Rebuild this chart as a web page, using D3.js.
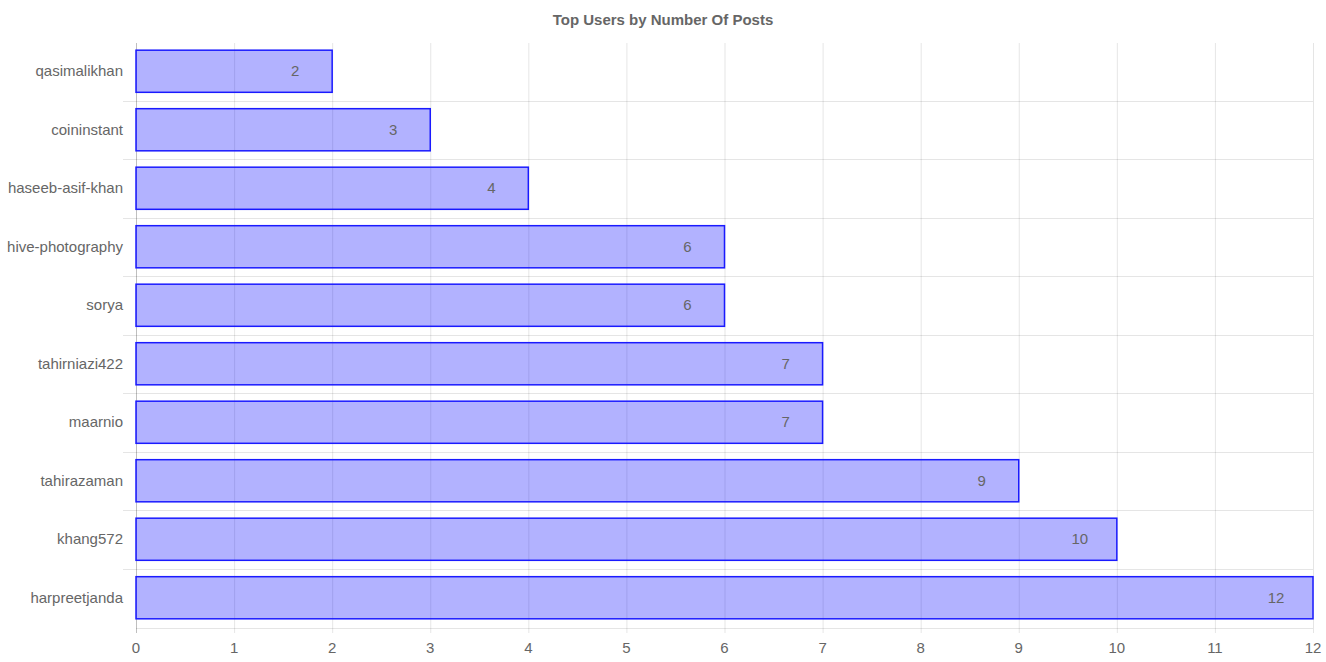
<!DOCTYPE html>
<html><head><meta charset="utf-8">
<script src="https://cdn.jsdelivr.net/npm/d3@7"></script>
<style>body{margin:0;background:#fff;font-family:"Liberation Sans",Arial,sans-serif;}</style>
</head><body><svg id="c" width="1326" height="662"></svg>
<script>
const users = ["qasimalikhan","coininstant","haseeb-asif-khan","hive-photography","sorya","tahirniazi422","maarnio","tahirazaman","khang572","harpreetjanda"];
const posts = [2,3,4,6,6,7,7,9,10,12];
const xTicks = [0,1,2,3,4,5,6,7,8,9,10,11,12];
const title = "Top Users by Number Of Posts";

const svg = d3.select("#c");
const L = 136, R = 1313, T = 42, B = 627;
const x = d3.scaleLinear().domain([0,12]).range([L,R]);
const y = d3.scaleBand().domain(users).range([T,B]).paddingInner(0).paddingOuter(0);
const grid = "rgba(0,0,0,0.1)";

svg.append("text").attr("x",663).attr("y",25).attr("text-anchor","middle")
  .attr("font-size",15).attr("font-weight","bold").attr("fill","#666").text(title);

// vertical grid
svg.append("g").selectAll("line").data(xTicks).join("line")
  .attr("x1",d=>x(d)+0.5).attr("x2",d=>x(d)+0.5).attr("y1",T+1).attr("y2",B+6)
  .attr("stroke",d=>d===0?"rgba(0,0,0,0.25)":grid).attr("stroke-width",1);
// horizontal grid (category boundaries, no top line)
const bounds = users.slice(1).map(u=>y(u));
svg.append("g").selectAll("line").data(bounds).join("line")
  .attr("x1",L-13).attr("x2",R).attr("y1",d=>Math.round(d)+0.5).attr("y2",d=>Math.round(d)+0.5)
  .attr("stroke",grid).attr("stroke-width",1);
svg.append("line").attr("x1",L).attr("x2",R).attr("y1",B+1.5).attr("y2",B+1.5)
  .attr("stroke",grid).attr("stroke-width",1);

// bars
const bh = y.bandwidth()*0.72;
svg.append("g").selectAll("rect").data(users).join("rect")
  .attr("x",x(0)).attr("y",(d)=>y(d)+(y.bandwidth()-bh)/2)
  .attr("width",(d,i)=>x(posts[i])-x(0)).attr("height",bh)
  .attr("fill","rgba(0,0,255,0.3)").attr("stroke","#1a1aff").attr("stroke-width",1.5);

// value labels
svg.append("g").selectAll("text").data(users).join("text")
  .attr("x",(d,i)=>x(posts[i])-37).attr("y",d=>y(d)+y.bandwidth()/2+5)
  .attr("text-anchor","middle").attr("font-size",15).attr("fill","#666")
  .text((d,i)=>posts[i]);

// y labels
svg.append("g").selectAll("text").data(users).join("text")
  .attr("x",123).attr("y",d=>y(d)+y.bandwidth()/2+5)
  .attr("text-anchor","end").attr("font-size",15).attr("fill","#666").text(d=>d);

// x labels
svg.append("g").selectAll("text").data(xTicks).join("text")
  .attr("x",d=>x(d)).attr("y",653).attr("text-anchor","middle")
  .attr("font-size",15).attr("fill","#666").text(d=>d);
</script></body></html>
